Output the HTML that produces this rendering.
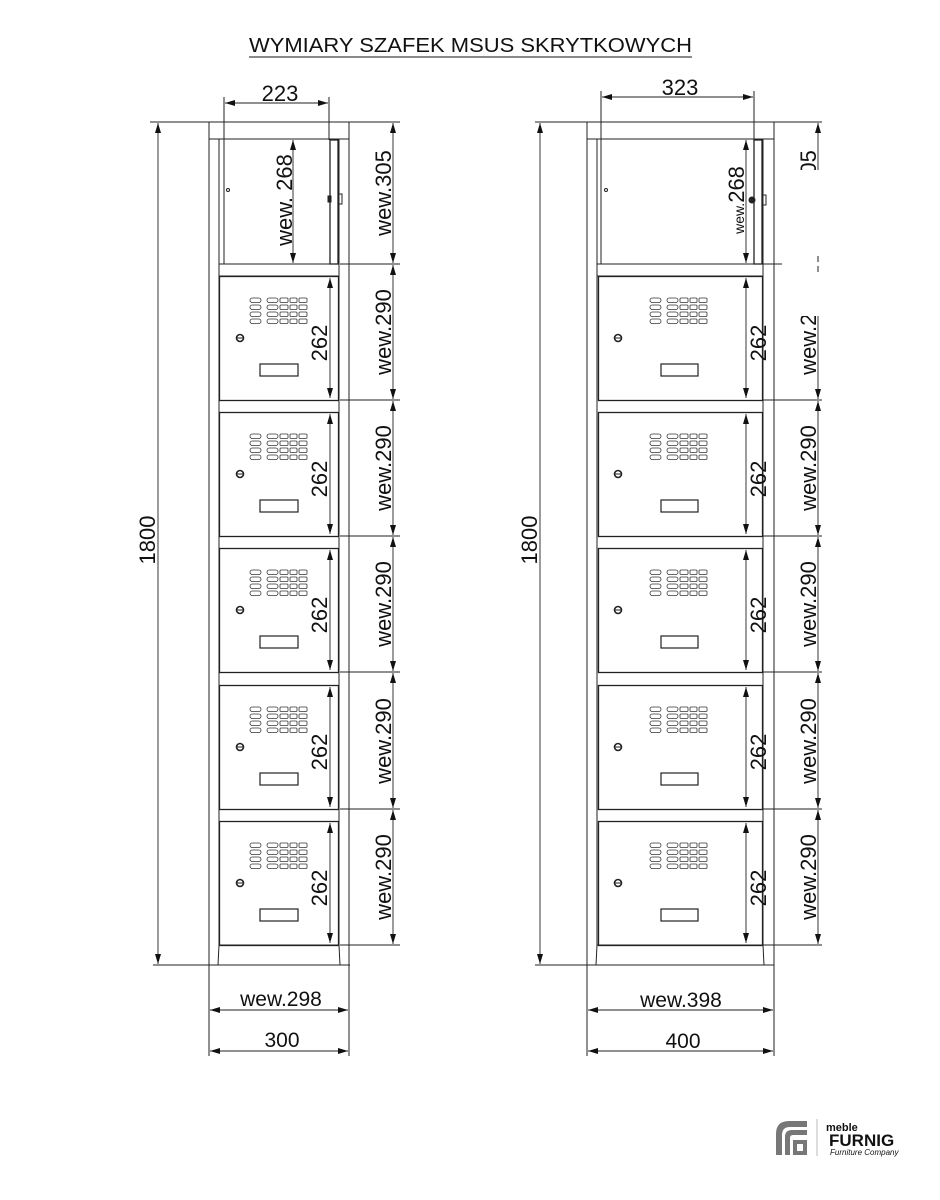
<!DOCTYPE html>
<html><head><meta charset="utf-8"><style>
html,body{margin:0;padding:0;background:#fff}
svg{display:block}
text{font-family:"Liberation Sans",Arial,sans-serif;fill:#111}
</style></head><body>
<svg width="940" height="1200" viewBox="0 0 940 1200" xmlns="http://www.w3.org/2000/svg">
<defs>
<marker id="a" viewBox="0 0 10 6" refX="10" refY="3" markerWidth="10" markerHeight="6" orient="auto-start-reverse" markerUnits="userSpaceOnUse"><path d="M0,0 L10,3 L0,6 z" fill="#111"/></marker>
<g id="vent" fill="none" stroke="#333" stroke-width="0.8">
<rect x="0" y="-2" width="11" height="4.5" rx="2.2"/><rect x="17" y="-2" width="11" height="4.5" rx="2.2"/>
<rect x="30" y="-2" width="8" height="4.5" rx="1"/><rect x="40" y="-2" width="7" height="4.5" rx="1"/><rect x="49" y="-2" width="8" height="4.5" rx="1"/>
</g>
<g id="ld" stroke="#222" fill="none">
<rect x="0.5" y="0.5" width="119" height="124" stroke-width="1.3"/>
<use href="#vent" x="31" y="24"/><use href="#vent" x="31" y="31"/><use href="#vent" x="31" y="38"/><use href="#vent" x="31" y="45"/>
<circle cx="21" cy="62" r="3.5" stroke-width="1.6"/><line x1="18" y1="62" x2="24" y2="62"/>
<rect x="41" y="88" width="38" height="12" stroke-width="1.2"/>
<line x1="111" y1="2" x2="111" y2="122" stroke-width="0.9" marker-start="url(#a)" marker-end="url(#a)"/>
</g>
<g id="rd" stroke="#222" fill="none">
<rect x="0.5" y="0.5" width="164" height="124" stroke-width="1.3"/>
<use href="#vent" x="52" y="24"/><use href="#vent" x="52" y="31"/><use href="#vent" x="52" y="38"/><use href="#vent" x="52" y="45"/>
<circle cx="20" cy="62" r="3.5" stroke-width="1.6"/><line x1="17" y1="62" x2="23" y2="62"/>
<rect x="63" y="88" width="37" height="12" stroke-width="1.2"/>
<line x1="148" y1="2" x2="148" y2="122" stroke-width="0.9" marker-start="url(#a)" marker-end="url(#a)"/>
</g>
</defs>

<text x="249" y="52" font-size="20" textLength="443" lengthAdjust="spacingAndGlyphs" fill="#333">WYMIARY SZAFEK MSUS SKRYTKOWYCH</text>
<line x1="249" y1="57" x2="692" y2="57" stroke="#444" stroke-width="1.2"/>

<!-- LEFT CABINET -->
<g stroke="#222" fill="none" stroke-width="1">
<rect x="209" y="122" width="140" height="17"/>
<line x1="209" y1="139" x2="209" y2="975"/><line x1="219" y1="139" x2="219" y2="945"/>
<line x1="339" y1="139" x2="339" y2="945"/><line x1="349" y1="139" x2="349" y2="975"/>
<line x1="219" y1="264" x2="339" y2="264"/><line x1="219" y1="276" x2="339" y2="276"/>
<rect x="330" y="140" width="8" height="124" stroke-width="1.3"/>
<circle cx="228" cy="190" r="1.5"/><rect x="328" y="196" width="3" height="6" fill="#222"/><rect x="339" y="194" width="3" height="10"/>
<path d="M209,965 L218,965 L219,945 M349,965 L340,965 L339,945"/>
<line x1="219" y1="945" x2="339" y2="945"/>
<line x1="150" y1="122" x2="400" y2="122"/><line x1="153" y1="965" x2="350" y2="965"/>
<line x1="340" y1="264" x2="400" y2="264"/><line x1="340" y1="400" x2="400" y2="400"/>
<line x1="340" y1="536" x2="400" y2="536"/><line x1="340" y1="672" x2="400" y2="672"/>
<line x1="340" y1="809" x2="400" y2="809"/><line x1="340" y1="945" x2="400" y2="945"/>
<line x1="224" y1="97" x2="224" y2="264"/><line x1="329" y1="97" x2="329" y2="140"/>
<line x1="209" y1="975" x2="209" y2="1056"/><line x1="349" y1="975" x2="349" y2="1056"/>
</g>
<g stroke="#222" stroke-width="0.9" fill="none">
<line x1="158" y1="123" x2="158" y2="964" marker-start="url(#a)" marker-end="url(#a)"/>
<line x1="225" y1="103" x2="328" y2="103" marker-start="url(#a)" marker-end="url(#a)"/>
<line x1="293" y1="140" x2="293" y2="263" marker-start="url(#a)" marker-end="url(#a)"/>
<line x1="393" y1="123" x2="393" y2="263" marker-start="url(#a)" marker-end="url(#a)"/>
<line x1="393" y1="265" x2="393" y2="399" marker-start="url(#a)" marker-end="url(#a)"/>
<line x1="393" y1="401" x2="393" y2="535" marker-start="url(#a)" marker-end="url(#a)"/>
<line x1="393" y1="537" x2="393" y2="671" marker-start="url(#a)" marker-end="url(#a)"/>
<line x1="393" y1="673" x2="393" y2="808" marker-start="url(#a)" marker-end="url(#a)"/>
<line x1="393" y1="810" x2="393" y2="944" marker-start="url(#a)" marker-end="url(#a)"/>
<line x1="210" y1="1010" x2="348" y2="1010" marker-start="url(#a)" marker-end="url(#a)"/>
<line x1="210" y1="1051" x2="348" y2="1051" marker-start="url(#a)" marker-end="url(#a)"/>
</g>
<use href="#ld" x="219" y="276"/><use href="#ld" x="219" y="412"/><use href="#ld" x="219" y="548"/><use href="#ld" x="219" y="685"/><use href="#ld" x="219" y="821"/>
<text x="280" y="101" font-size="22" text-anchor="middle">223</text>
<text x="281" y="1006" font-size="21" text-anchor="middle">wew.298</text>
<text x="282" y="1047" font-size="21" text-anchor="middle">300</text>
<g font-size="22" text-anchor="middle">
<text transform="translate(155,540) rotate(-90)">1800</text>
<text transform="translate(292,200) rotate(-90)">wew. 268</text>
<text transform="translate(391,193) rotate(-90)">wew.305</text>
<text transform="translate(391,332) rotate(-90)">wew.290</text>
<text transform="translate(391,468) rotate(-90)">wew.290</text>
<text transform="translate(391,604) rotate(-90)">wew.290</text>
<text transform="translate(391,741) rotate(-90)">wew.290</text>
<text transform="translate(391,877) rotate(-90)">wew.290</text>
<text transform="translate(327,343) rotate(-90)">262</text>
<text transform="translate(327,479) rotate(-90)">262</text>
<text transform="translate(327,615) rotate(-90)">262</text>
<text transform="translate(327,752) rotate(-90)">262</text>
<text transform="translate(327,888) rotate(-90)">262</text>
</g>

<!-- RIGHT CABINET -->
<g stroke="#222" fill="none" stroke-width="1">
<rect x="587" y="122" width="187" height="17"/>
<line x1="587" y1="139" x2="587" y2="975"/><line x1="597" y1="139" x2="597" y2="945"/>
<line x1="763" y1="139" x2="763" y2="945"/><line x1="774" y1="139" x2="774" y2="975"/>
<line x1="597" y1="264" x2="763" y2="264"/><line x1="597" y1="276" x2="763" y2="276"/>
<rect x="754" y="140" width="8" height="124" stroke-width="1.3"/>
<circle cx="606" cy="190" r="1.5"/><circle cx="752" cy="200" r="3" fill="#222"/><rect x="763" y="195" width="3" height="10"/>
<path d="M587,965 L596,965 L597,945 M774,965 L764,965 L763,945"/>
<line x1="597" y1="945" x2="763" y2="945"/>
<line x1="535" y1="122" x2="822" y2="122"/><line x1="535" y1="965" x2="774" y2="965"/>
<line x1="763" y1="264" x2="822" y2="264"/><line x1="763" y1="400" x2="822" y2="400"/>
<line x1="763" y1="536" x2="822" y2="536"/><line x1="763" y1="672" x2="822" y2="672"/>
<line x1="763" y1="809" x2="822" y2="809"/><line x1="763" y1="945" x2="822" y2="945"/>
<line x1="601" y1="91" x2="601" y2="264"/><line x1="754" y1="91" x2="754" y2="140"/>
<line x1="587" y1="975" x2="587" y2="1056"/><line x1="774" y1="975" x2="774" y2="1056"/>
</g>
<g stroke="#222" stroke-width="0.9" fill="none">
<line x1="540" y1="123" x2="540" y2="964" marker-start="url(#a)" marker-end="url(#a)"/>
<line x1="602" y1="97" x2="753" y2="97" marker-start="url(#a)" marker-end="url(#a)"/>
<line x1="746" y1="140" x2="746" y2="263" marker-start="url(#a)" marker-end="url(#a)"/>
<line x1="818" y1="123" x2="818" y2="263" marker-start="url(#a)" marker-end="url(#a)"/>
<line x1="818" y1="265" x2="818" y2="399" marker-start="url(#a)" marker-end="url(#a)"/>
<line x1="818" y1="401" x2="818" y2="535" marker-start="url(#a)" marker-end="url(#a)"/>
<line x1="818" y1="537" x2="818" y2="671" marker-start="url(#a)" marker-end="url(#a)"/>
<line x1="818" y1="673" x2="818" y2="808" marker-start="url(#a)" marker-end="url(#a)"/>
<line x1="818" y1="810" x2="818" y2="944" marker-start="url(#a)" marker-end="url(#a)"/>
<line x1="588" y1="1010" x2="773" y2="1010" marker-start="url(#a)" marker-end="url(#a)"/>
<line x1="588" y1="1051" x2="773" y2="1051" marker-start="url(#a)" marker-end="url(#a)"/>
</g>
<use href="#rd" x="598" y="276"/><use href="#rd" x="598" y="412"/><use href="#rd" x="598" y="548"/><use href="#rd" x="598" y="685"/><use href="#rd" x="598" y="821"/>
<text x="680" y="95" font-size="22" text-anchor="middle">323</text>
<text x="681" y="1007" font-size="21" text-anchor="middle">wew.398</text>
<text x="683" y="1048" font-size="21" text-anchor="middle">400</text>
<g font-size="22" text-anchor="middle">
<text transform="translate(537,540) rotate(-90)">1800</text>
<text transform="translate(744,200) rotate(-90)"><tspan font-size="14">wew.</tspan>268</text>
<text transform="translate(816,193) rotate(-90)">wew.305</text>
<text transform="translate(816,332) rotate(-90)">wew.290</text>
<text transform="translate(816,468) rotate(-90)">wew.290</text>
<text transform="translate(816,604) rotate(-90)">wew.290</text>
<text transform="translate(816,741) rotate(-90)">wew.290</text>
<text transform="translate(816,877) rotate(-90)">wew.290</text>
<text transform="translate(766,343) rotate(-90)">262</text>
<text transform="translate(766,479) rotate(-90)">262</text>
<text transform="translate(766,615) rotate(-90)">262</text>
<text transform="translate(766,752) rotate(-90)">262</text>
<text transform="translate(766,888) rotate(-90)">262</text>
</g>
<rect x="782" y="170" width="60" height="84" fill="#fff"/>
<rect x="782" y="254" width="60" height="62" fill="#fff"/>
<line x1="818" y1="256" x2="818" y2="262" stroke="#222"/><line x1="818" y1="266" x2="818" y2="272" stroke="#222"/>

<!-- LOGO -->
<g fill="#777">
<path d="M776,1155 L776,1134 Q776,1121 789,1121 L807,1121 L807,1127 L790,1127 Q782,1127 782,1135 L782,1155 Z"/>
<path d="M785,1155 L785,1137 Q785,1130 792,1130 L807,1130 L807,1135 L793,1135 Q790,1135 790,1138 L790,1155 Z"/>
<path d="M793,1155 L793,1140 L807,1140 L807,1155 Z M797,1144 L797,1151 L803,1151 L803,1144 Z"/>
</g>
<line x1="817" y1="1119" x2="817" y2="1156" stroke="#bbb" stroke-width="1"/>
<text x="826" y="1131" font-size="11" font-weight="bold" fill="#777">meble</text>
<text x="829" y="1146" font-size="17" font-weight="bold" fill="#777">FURNIG</text>
<text x="830" y="1155" font-size="8" font-style="italic" fill="#777">Furniture Company</text>
</svg>
</body></html>
